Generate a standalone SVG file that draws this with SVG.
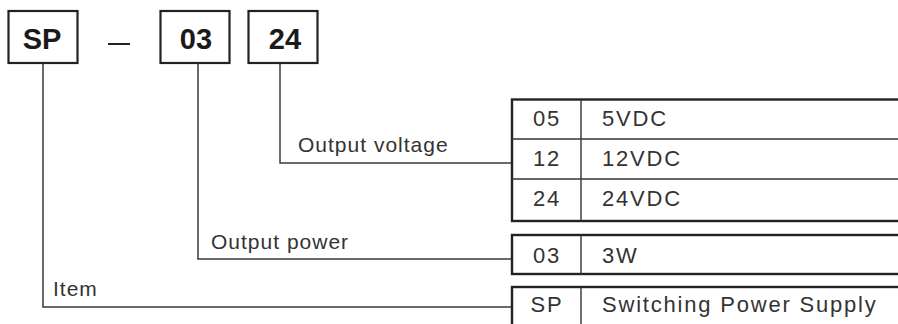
<svg xmlns="http://www.w3.org/2000/svg" width="898" height="324" viewBox="0 0 898 324">
<style>
.box{fill:#fff;stroke:#222;stroke-width:2.2}
.hd{font-family:"Liberation Sans",Arial,sans-serif;font-weight:bold;font-size:29px;fill:#1a1a1a;text-anchor:middle}
.ln{fill:none;stroke:#3a3a3a;stroke-width:1.5}
.tb{fill:#fff;stroke:#222;stroke-width:2.4}
.dv{stroke:#333;stroke-width:1.4}
.lbl{font-family:"Liberation Sans",Arial,sans-serif;font-size:21px;letter-spacing:1px;fill:#333}
.cell{font-family:"Liberation Sans",Arial,sans-serif;font-size:22px;letter-spacing:1.8px;fill:#333}
.code{text-anchor:middle}
</style>
<g id="code-sp">
<rect class="box" x="8.5" y="11" width="69" height="52"/>
<text class="hd" x="42" y="49">SP</text>
</g>
<g id="dash">
<line x1="108" y1="44" x2="130" y2="44" stroke="#222" stroke-width="2"/>
</g>
<g id="code-03">
<rect class="box" x="160.5" y="11" width="69" height="52"/>
<text class="hd" x="196" y="49">03</text>
</g>
<g id="code-24">
<rect class="box" x="248.5" y="11" width="69" height="52"/>
<text class="hd" x="285" y="49">24</text>
</g>
<g id="connectors">
<polyline class="ln" points="43,63 43,307 512,307"/>
<polyline class="ln" points="198,63 198,259 512,259"/>
<polyline class="ln" points="280,63 280,163 512,163"/>
</g>
<g id="label-voltage"><text class="lbl" x="298" y="152">Output voltage</text></g>
<g id="label-power"><text class="lbl" x="211" y="249">Output power</text></g>
<g id="label-item"><text class="lbl" x="53" y="296">Item</text></g>
<g id="table-voltage">
<rect class="tb" x="512" y="99.5" width="400" height="121.5"/>
<line class="dv" x1="512" y1="139" x2="898" y2="139"/>
<line class="dv" x1="512" y1="179" x2="898" y2="179"/>
<line class="dv" x1="581" y1="99.5" x2="581" y2="221"/>
<text class="cell code" x="547" y="126">05</text>
<text class="cell" x="602" y="126">5VDC</text>
<text class="cell code" x="547" y="166">12</text>
<text class="cell" x="602" y="166">12VDC</text>
<text class="cell code" x="547" y="206">24</text>
<text class="cell" x="602" y="206">24VDC</text>
</g>
<g id="table-power">
<rect class="tb" x="512" y="235" width="400" height="39"/>
<line class="dv" x1="581" y1="235" x2="581" y2="274"/>
<text class="cell code" x="547" y="263">03</text>
<text class="cell" x="602" y="263">3W</text>
</g>
<g id="table-item">
<rect class="tb" x="512" y="287" width="400" height="60"/>
<line class="dv" x1="581" y1="287" x2="581" y2="324"/>
<text class="cell code" x="547" y="312">SP</text>
<text class="cell" x="602" y="312">Switching Power Supply</text>
</g>
</svg>
